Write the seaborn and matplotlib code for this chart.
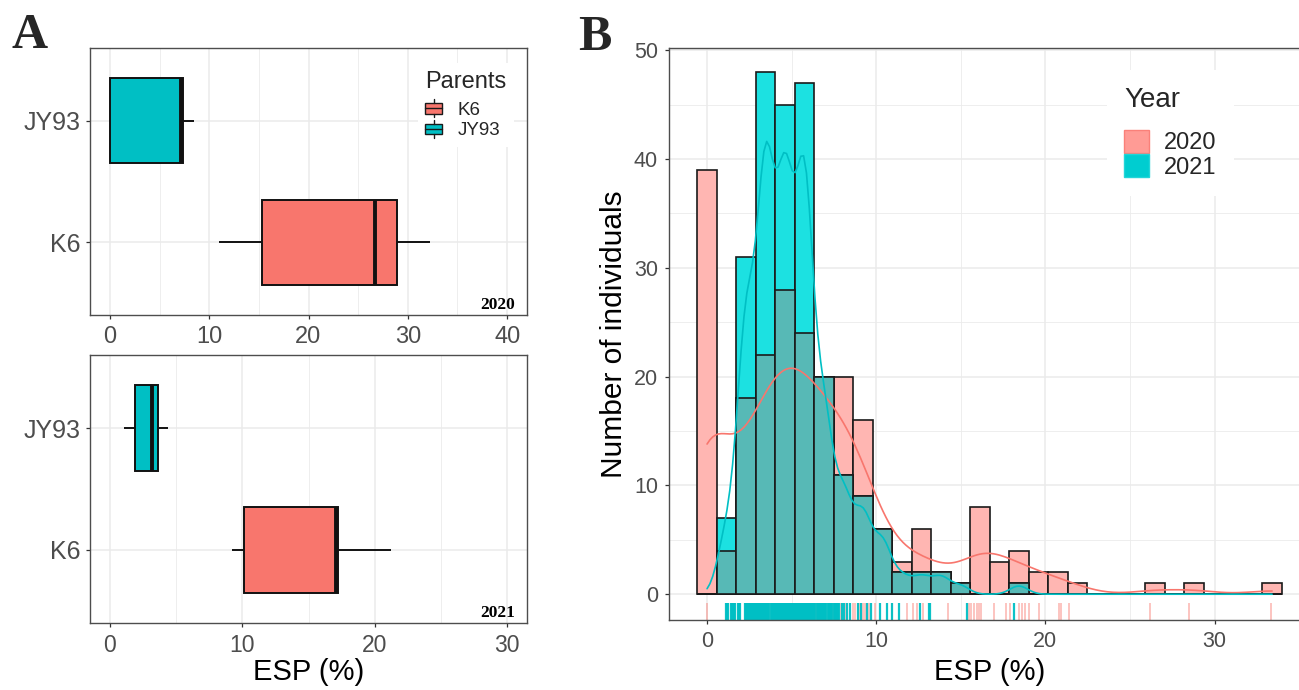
import numpy as np
import pandas as pd
import matplotlib
matplotlib.use("Agg")
import matplotlib.pyplot as plt
import seaborn as sns
from matplotlib.patches import Patch, Rectangle
from matplotlib.lines import Line2D
from matplotlib.legend_handler import HandlerBase

# ---------------- data ----------------
parents = ["K6", "JY93"]
esp2020_k6 = [11.0, 15.3, 26.7, 28.9, 32.2]
esp2020_jy93 = [0.0, 0.0, 7.15, 7.4, 8.5]
esp2021_k6 = [9.2, 10.15, 17.05, 17.25, 21.25]
esp2021_jy93 = [1.03, 1.9, 3.2, 3.6, 4.37]

years = ["2020", "2021"]
bin_centers = [0.00, 1.15, 2.30, 3.46, 4.61, 5.76, 6.91, 8.06, 9.21, 10.37,
               11.52, 12.67, 13.82, 14.97, 16.12, 17.28, 18.43, 19.58, 20.73, 21.88,
               23.03, 24.19, 25.34, 26.49, 27.64, 28.79, 29.94, 31.10, 32.25, 33.40]
count_2020 = [39, 4, 18, 22, 28, 24, 20, 20, 16, 6, 3, 6, 2, 1, 8, 3, 4, 2, 2, 1,
              0, 0, 0, 1, 0, 1, 0, 0, 0, 1]
count_2021 = [0, 7, 31, 48, 45, 47, 20, 11, 9, 6, 2, 2, 2, 1, 0, 0, 1, 0, 0, 0,
              0, 0, 0, 0, 0, 0, 0, 0, 0, 0]

rug_2020 = [0.0, 2.30, 6.45, 7.45, 7.90, 8.20, 8.60, 8.75, 8.90, 9.05, 9.20, 9.35,
            9.60, 9.90, 10.95, 11.80, 12.16, 12.40, 12.77, 14.25, 15.50, 15.60, 15.80,
            15.95, 16.05, 16.20, 16.96, 17.67, 17.90, 18.45, 18.60, 18.80, 19.05,
            19.60, 20.80, 20.95, 21.40, 26.17, 28.50, 33.36]
rug_2021 = [1.14, 1.19, 1.25, 1.40, 1.45, 1.52, 1.58, 1.64, 1.80, 1.88, 1.93, 2.25,
            2.31, 2.37, 2.43, 2.49, 2.55, 2.61, 2.67, 2.73, 2.79, 2.85, 2.91, 2.97,
            3.03, 3.09, 3.15, 3.21, 3.27, 3.33, 3.39, 3.45, 3.51, 3.57, 3.63, 3.69,
            3.75, 3.81, 3.87, 3.93, 3.99, 4.05, 4.11, 4.17, 4.23, 4.29, 4.35, 4.41,
            4.47, 4.53, 4.59, 4.65, 4.71, 4.77, 4.83, 4.89, 4.95, 5.01, 5.07, 5.13,
            5.19, 5.25, 5.31, 5.37, 5.43, 5.49, 5.55, 5.61, 5.67, 5.73, 5.79, 5.85,
            5.91, 5.97, 6.03, 6.09, 6.15, 6.21, 6.27, 6.33, 6.39, 6.52, 6.58, 6.64,
            6.70, 6.76, 6.82, 6.88, 6.94, 7.00, 7.06, 7.12, 7.18, 7.24, 7.30, 7.36,
            7.52, 7.58, 7.64, 7.70, 7.76, 7.82, 8.00, 8.08, 8.30, 8.45, 8.95, 9.10,
            9.45, 9.70, 10.24, 10.62, 10.95, 11.35, 12.60, 13.10, 13.20, 15.35, 18.16]

# ---------------- style ----------------
sns.set_theme(style="white")
plt.rcParams["font.family"] = ["Liberation Sans", "DejaVu Sans"]

RED = "#F8766D"
TEAL = "#00BFC4"
PAL = {"K6": RED, "JY93": TEAL}
GRID = "#EBEBEB"
FRAME = "#4D4D4D"
TICKC = "#4D4D4D"

W, H = 1299, 690
fig = plt.figure(figsize=(W / 100, H / 100), dpi=100)


def px_axes(l, t, r, b):
    return fig.add_axes([l / W, 1 - b / H, (r - l) / W, (b - t) / H])


def style_axes(ax, xmaj, xmin, ymaj=None, ymin=None):
    ax.set_axisbelow(True)
    ax.set_xticks(xmaj)
    ax.set_xticks(xmin, minor=True)
    if ymaj is not None:
        ax.set_yticks(ymaj)
    if ymin is not None:
        ax.set_yticks(ymin, minor=True)
    ax.grid(which="major", color=GRID, lw=1.1)
    ax.grid(which="minor", color=GRID, lw=0.6)
    for s in ax.spines.values():
        s.set_color(FRAME)
        s.set_linewidth(1.0)
    ax.tick_params(which="major", length=3, width=0.9, color="#333333",
                   labelcolor=TICKC, bottom=True, left=True)
    ax.tick_params(which="minor", length=0)


# ---------------- Panel A: boxplots ----------------
box_sets = [
    (px_axes(90, 48, 527, 315), esp2020_k6, esp2020_jy93, "2020", (-2, 42),
     [0, 10, 20, 30, 40], [5, 15, 25, 35]),
    (px_axes(90, 355, 527, 623), esp2021_k6, esp2021_jy93, "2021", (-1.5, 31.5),
     [0, 10, 20, 30], [5, 15, 25]),
]

for ax, k6, jy, yr, xl, xmaj, xmin in box_sets:
    df = pd.DataFrame({
        "ESP": k6 + jy,
        "Parents": ["K6"] * len(k6) + ["JY93"] * len(jy),
    })
    sns.boxplot(data=df, x="ESP", y="Parents", hue="Parents",
                order=["JY93", "K6"], hue_order=parents, palette=PAL,
                saturation=1, width=0.7, linecolor="#111111", linewidth=1.4,
                showcaps=False, fliersize=0, medianprops=dict(linewidth=2.8),
                legend=False, ax=ax)
    ax.set_xlim(*xl)
    ax.set_ylim(1.6, -0.6)
    style_axes(ax, xmaj, xmin)
    ax.tick_params(axis="x", labelsize=16.5, pad=5)
    ax.tick_params(axis="y", labelsize=18, pad=4)
    ax.set_ylabel("")
    ax.set_xlabel("")
    ax.text(0.972, 0.022, yr, transform=ax.transAxes, ha="right", va="baseline",
            fontsize=12.5, fontweight="bold", family=["Liberation Serif", "DejaVu Serif"],
            color="black")

box_sets[0][0].tick_params(axis="x", labelsize=17)
box_sets[1][0].set_xlabel("ESP (%)", fontsize=21, color="black", labelpad=1)


class BoxHandler(HandlerBase):
    def create_artists(self, legend, orig_handle, xd, yd, w, h, fontsize, trans):
        x0, y0 = -xd, -yd
        fc = orig_handle.get_facecolor()
        bh = h * 0.58
        rect = Rectangle((x0, y0 + (h - bh) / 2), w, bh, facecolor=fc,
                         edgecolor="#1a1a1a", lw=1.0, transform=trans)
        med = Line2D([x0, x0 + w], [y0 + h / 2] * 2, color="#1a1a1a", lw=1.0,
                     transform=trans)
        wl = Line2D([x0 + w / 2] * 2, [y0, y0 + (h - bh) / 2], color="#1a1a1a",
                    lw=1.0, transform=trans)
        wu = Line2D([x0 + w / 2] * 2, [y0 + h - (h - bh) / 2, y0 + h],
                    color="#1a1a1a", lw=1.0, transform=trans)
        return [rect, med, wl, wu]


axA = box_sets[0][0]
handlesA = [Patch(facecolor=PAL[p]) for p in parents]
legA = axA.legend(handlesA, parents, title="Parents", loc="upper left",
                  bbox_to_anchor=(418 / W, 1 - 63 / H), bbox_transform=fig.transFigure,
                  fontsize=13.5, title_fontsize=17, frameon=True, facecolor="white",
                  edgecolor="none", framealpha=1, fancybox=False, borderpad=0.4,
                  borderaxespad=0, handlelength=0.9, handleheight=1.1,
                  labelspacing=0.05, handletextpad=0.8, alignment="left",
                  handler_map={Patch: BoxHandler()})
legA._legend_box.sep = 5

# ---------------- Panel B: histogram ----------------
axB = px_axes(669, 48, 1311, 620)
brange = (-0.576, 33.976)
count_both = np.minimum(count_2020, count_2021)

hist_layers = [(count_2020, "#FFB6B2"), (count_2021, "#1CE1E1"), (count_both, "#57B9B6")]
for cnt, fc in hist_layers:
    sns.histplot(x=bin_centers, weights=cnt, bins=30, binrange=brange,
                 color=fc, alpha=1, edgecolor="#1a1a1a", linewidth=1.2, ax=axB)

# density curves on a count scale (density x n, unit-width invisible bins)
for cnt, col, bwa in [(count_2020, RED, 0.37), (count_2021, TEAL, 0.27)]:
    sns.histplot(x=bin_centers, weights=cnt, binwidth=1, binrange=(-0.5, 34.5),
                 color=col, alpha=0, linewidth=0, kde=True,
                 kde_kws=dict(bw_adjust=bwa, cut=0),
                 line_kws=dict(linewidth=1.2), ax=axB)

sns.rugplot(x=rug_2020, height=0.03, color=RED, alpha=0.5, linewidth=1.2, ax=axB)
sns.rugplot(x=rug_2021, height=0.03, color=TEAL, alpha=0.95, linewidth=1.6, ax=axB)

axB.set_xlim(-2.25, 35.7)
axB.set_ylim(-2.37, 50.2)
style_axes(axB, [0, 10, 20, 30], [5, 15, 25, 35],
           [0, 10, 20, 30, 40, 50], [5, 15, 25, 35, 45])
axB.tick_params(axis="both", labelsize=15.5)
axB.tick_params(axis="y", pad=5)
axB.tick_params(axis="x", pad=5)
axB.set_ylabel("")
axB.set_xlabel("ESP (%)", fontsize=21, color="black", labelpad=4)
fig.text(614 / W, 1 - 334 / H, "Number of individuals", rotation=90,
         ha="center", va="center", fontsize=21.5, color="black")

handlesB = [Patch(facecolor="#FF9B95", edgecolor="#FA8079", lw=1.0),
            Patch(facecolor="#00CDD0", edgecolor="#22D5D8", lw=1.0)]
legB = axB.legend(handlesB, years, title="Year", loc="upper left",
                  bbox_to_anchor=(1107 / W, 1 - 70 / H), bbox_transform=fig.transFigure,
                  fontsize=17, title_fontsize=20, frameon=True, facecolor="white",
                  edgecolor="none", framealpha=1, fancybox=False, borderpad=0.72,
                  borderaxespad=0, handlelength=1.06, handleheight=1.13,
                  labelspacing=0.0, handletextpad=0.64, alignment="left")
legB._legend_box.sep = 12

# panel letters
serif = ["Liberation Serif", "DejaVu Serif"]
fig.text(12 / W, 1 - 48 / H, "A", fontsize=36, fontweight="bold", family=serif,
         ha="left", va="baseline")
fig.text(578 / W, 1 - 50 / H, "B", fontsize=36, fontweight="bold", family=serif,
         ha="left", va="baseline")

fig.savefig("out.png", dpi=100)
